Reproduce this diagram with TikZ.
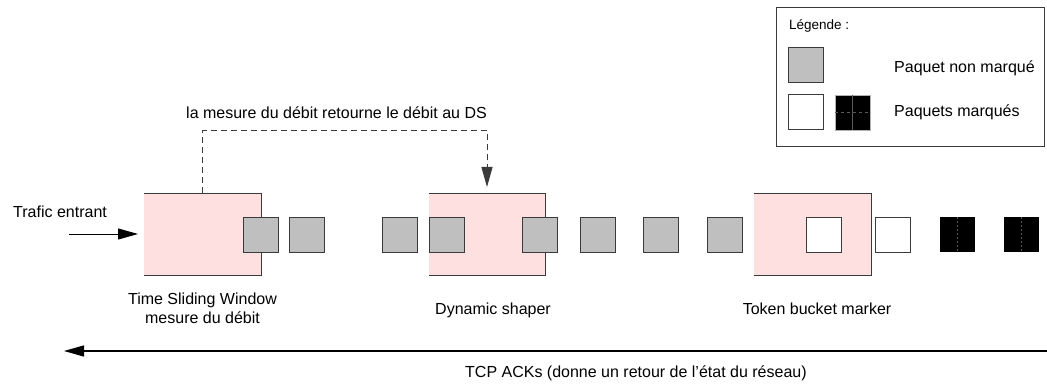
\documentclass[tikz,border=0pt]{standalone}
\usepackage{fontspec}
\setmainfont{Liberation Sans}
\usetikzlibrary{arrows.meta}
\definecolor{pinkbox}{HTML}{FFE0E1}
\definecolor{pktgray}{HTML}{BFBFBF}
\definecolor{edge}{HTML}{3A3A3A}
\begin{document}
\begin{tikzpicture}[x=1pt,y=-1pt,
  every node/.style={font=\fontsize{16}{19}\selectfont, text=black},
  procbox/.style={fill=pinkbox, minimum width=117pt, minimum height=82pt, inner sep=0pt, outer sep=0pt},
  pkt/.style={draw=edge, line width=1pt, minimum size=35pt, inner sep=0pt, outer sep=0pt},
  graypkt/.style={pkt, fill=pktgray},
  whitepkt/.style={pkt, fill=white},
  blackpkt/.style={fill=black, minimum size=35pt, inner sep=0pt, outer sep=0pt},
  edgeline/.style={draw=edge, line width=1pt},
  tip/.style={-{Triangle[length=20pt,width=11pt]}},
  lbl/.style={inner sep=0pt, anchor=west}
]
\useasboundingbox (0,0) rectangle (1047,385);

% legend
\node[draw=edge, line width=1pt, minimum width=268pt, minimum height=139pt, inner sep=0pt] (legend) at (910,77.5) {};
\node[lbl, font=\fontsize{13.5}{16}\selectfont] (legtitle) at (789,26) {Légende :};
\node[graypkt, minimum size=35pt] (lgray) at (806,65.5) {};
\node[whitepkt] (lwhite) at (806,112.5) {};
\node[blackpkt, draw=gray!60, line width=0.6pt] (lblack) at (852.5,112.5) {};
\draw[gray!70!black, line width=0.4pt, dashed] (lblack.west) -- (lblack.east);
\draw[gray!70!black, line width=0.4pt] (lblack.north) -- (lblack.south);
\node[lbl] (lnon) at (894,68) {Paquet non marqué};
\node[lbl] (lmar) at (894,112) {Paquets marqués};

% process boxes
\node[procbox] (tsw) at (202.5,234) {};
\node[procbox, minimum width=116pt] (ds) at (487,234) {};
\node[procbox] (tbm) at (812.5,234) {};
\foreach \b in {tsw,ds,tbm}{
  \draw[edgeline] (\b.north west) -- (\b.north east) -- (\b.south east) -- (\b.south west);
}

% packets
\foreach \x [count=\i] in {243,289,382,429,522,580,643,707}{
  \node[graypkt] (g\i) at (\x+17.5,234.5) {};
}
\node[whitepkt] (w1) at (823.5,234.5) {};
\node[whitepkt] (w2) at (892.5,234.5) {};
\node[blackpkt] (b1) at (957,234.5) {};
\node[blackpkt] (b2) at (1021,234.5) {};
\foreach \b in {b1,b2}{
  \draw[gray!70!black, line width=0.4pt, dash pattern=on 2pt off 2pt] (\b.north) -- (\b.south);
}

% labels
\node[lbl] (trafic) at (13,212) {Trafic entrant};
\node[align=center, inner sep=0pt] (tswlbl) at (202.5,308.5) {Time Sliding Window\\mesure du débit};
\node[inner sep=0pt] (dslbl) at (493,310) {Dynamic shaper};
\node[inner sep=0pt] (tbmlbl) at (817,309) {Token bucket marker};
\node[lbl] (mesure) at (186,113) {la mesure du débit retourne le débit au DS};
\node[lbl] (tcp) at (465,373) {TCP ACKs (donne un retour de l’état du réseau)};

% incoming traffic arrow
\coordinate (tin) at (69,234);
\draw[line width=1pt, tip, shorten >=6pt] (tin) -- (tin -| tsw.west);

% dashed feedback
\coordinate (fb) at (0,131);
\draw[edgeline, dash pattern=on 6pt off 4pt, tip, shorten >=6pt]
  (tsw.north) -- (tsw.north |- fb) -| (ds.north);

% TCP ACK arrow
\coordinate (ackstart) at (1047,351);
\coordinate (ackend) at (64,351);
\draw[line width=1.3pt, tip] (ackstart) -- (ackend);
\end{tikzpicture}
\end{document}
